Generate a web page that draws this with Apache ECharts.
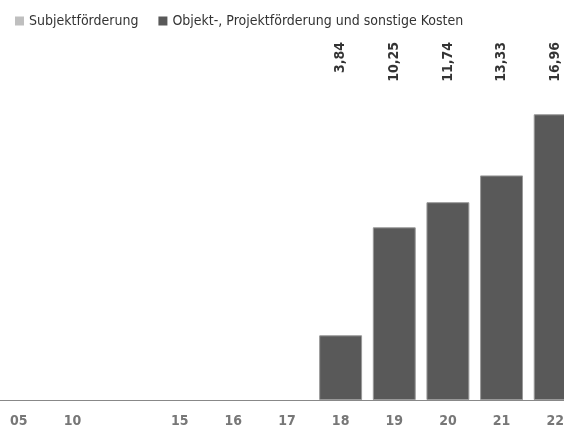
<!DOCTYPE html>
<html>
<head>
<meta charset="utf-8">
<script src="https://cdn.jsdelivr.net/npm/echarts@6/dist/echarts.min.js"></script>
<style>
	html, body { margin: 0; padding: 0; background: #fff; }
	#chart-box { width: 564px; height: 428px; }
</style>
</head>
<body>
<div id="chart-box"></div>
<script>
var years = ["05", "10", "", "15", "16", "17", "18", "19", "20", "21", "22"];
var subjekt = [null, null, null, null, null, null, null, null, null, null, null];
var objekt = [null, null, null, null, null, null, 3.84, 10.25, 11.74, 13.33, 16.96];
var totals = [null, null, null, null, null, null, 3.84, 10.25, 11.74, 13.33, 16.96];

var font = "'Liberation Sans Narrow', 'DejaVu Sans Condensed', sans-serif";
var yMax = 21.25;

var chart = echarts.init(document.getElementById("chart-box"));

var labelData = [];
totals.forEach(function (v, i) {
	if (v != null) {
		labelData.push([i, yMax, v]);
	}
});

var option = {
	animation: false,
	legend: {
		left: 10,
		top: 9,
		icon: "rect",
		itemWidth: 9,
		itemHeight: 9,
		itemGap: 20,
		itemStyle: { borderWidth: 0 },
		data: ["Subjektförderung", "Objekt-, Projektförderung und sonstige Kosten"],
		textStyle: {
			fontFamily: font,
			fontSize: 14,
			color: "#333"
		}
	},
	grid: {
		left: -8,
		width: 590,
		top: 42,
		bottom: 28,
		outerBoundsMode: "none",
		containLabel: false
	},
	xAxis: {
		type: "category",
		data: years,
		axisTick: { show: false },
		axisLine: {
			lineStyle: { color: "#888", width: 1 }
		},
		axisLabel: {
			interval: 0,
			margin: 14,
			fontFamily: font,
			fontSize: 14,
			fontWeight: "bold",
			color: "#777"
		}
	},
	yAxis: {
		type: "value",
		show: false,
		min: 0,
		max: yMax
	},
	series: [
		{
			name: "Subjektförderung",
			type: "bar",
			stack: "total",
			barCategoryGap: "20%",
			itemStyle: { color: "#bfbfbf", borderColor: "#999", borderWidth: 1 },
			data: subjekt
		},
		{
			name: "Objekt-, Projektförderung und sonstige Kosten",
			type: "bar",
			stack: "total",
			barCategoryGap: "20%",
			itemStyle: { color: "#595959", borderColor: "#999", borderWidth: 1 },
			data: objekt
		},
		{
			name: "labels",
			type: "scatter",
			symbolSize: 0,
			silent: true,
			data: labelData,
			label: {
				show: true,
				position: "inside",
				rotate: 90,
				align: "right",
				verticalAlign: "middle",
				fontFamily: font,
				fontSize: 14,
				fontWeight: "bold",
				color: "#000",
				formatter: function (p) {
					return p.value[2].toFixed(2).replace(".", ",");
				}
			}
		}
	]
};

chart.setOption(option);
</script>
</body>
</html>
